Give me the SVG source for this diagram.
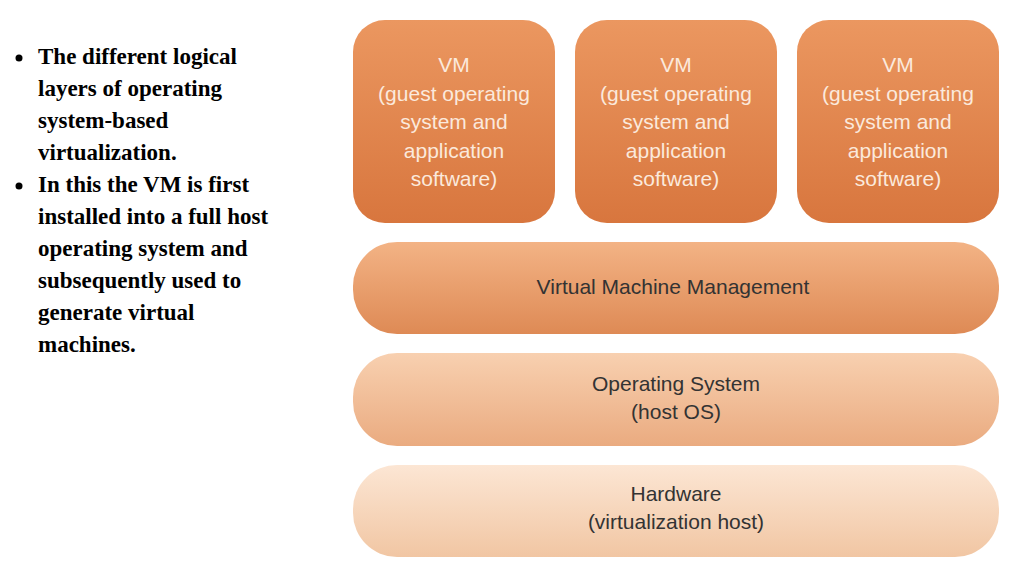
<svg xmlns="http://www.w3.org/2000/svg" width="1024" height="576" viewBox="0 0 1024 576">
<defs>
<linearGradient id="gvm" x1="0" y1="0" x2="0" y2="1"><stop offset="0" stop-color="#eb9760"/><stop offset="1" stop-color="#d8763e"/></linearGradient>
<linearGradient id="gvmm" x1="0" y1="0" x2="0" y2="1"><stop offset="0" stop-color="#f3b385"/><stop offset="1" stop-color="#de8a55"/></linearGradient>
<linearGradient id="gos" x1="0" y1="0" x2="0" y2="1"><stop offset="0" stop-color="#f8d0b0"/><stop offset="1" stop-color="#eaab80"/></linearGradient>
<linearGradient id="ghw" x1="0" y1="0" x2="0" y2="1"><stop offset="0" stop-color="#fce6d4"/><stop offset="1" stop-color="#f1c6a3"/></linearGradient>
</defs>
<style>
.b{font-family:"Liberation Serif",serif;font-weight:bold;font-size:23px;fill:#000}
.w{font-family:"Liberation Sans",Arial,sans-serif;font-size:21px;fill:#fbe9dc;text-anchor:middle}
.d{font-family:"Liberation Sans",Arial,sans-serif;font-size:21px;fill:#333;text-anchor:middle}
</style>
<rect width="1024" height="576" fill="#fff"/>
<g id="text">
<circle cx="19" cy="58" r="3.5" fill="#000"/>
<circle cx="19" cy="186" r="3.5" fill="#000"/>
<text class="b" x="38" y="64">The different logical</text>
<text class="b" x="38" y="96">layers of operating</text>
<text class="b" x="38" y="128">system-based</text>
<text class="b" x="38" y="160">virtualization.</text>
<text class="b" x="38" y="192">In this the VM is first</text>
<text class="b" x="38" y="224">installed into a full host</text>
<text class="b" x="38" y="256">operating system and</text>
<text class="b" x="38" y="288">subsequently used to</text>
<text class="b" x="38" y="320">generate virtual</text>
<text class="b" x="38" y="352">machines.</text>
</g>
<g id="vm1"><rect x="353" y="20" width="202" height="203" rx="32" fill="url(#gvm)"/>
<text class="w" x="454" y="72">VM</text><text class="w" x="454" y="101">(guest operating</text><text class="w" x="454" y="129">system and</text><text class="w" x="454" y="158">application</text><text class="w" x="454" y="186">software)</text></g>
<g id="vm2"><rect x="575" y="20" width="202" height="203" rx="32" fill="url(#gvm)"/>
<text class="w" x="676" y="72">VM</text><text class="w" x="676" y="101">(guest operating</text><text class="w" x="676" y="129">system and</text><text class="w" x="676" y="158">application</text><text class="w" x="676" y="186">software)</text></g>
<g id="vm3"><rect x="797" y="20" width="202" height="203" rx="32" fill="url(#gvm)"/>
<text class="w" x="898" y="72">VM</text><text class="w" x="898" y="101">(guest operating</text><text class="w" x="898" y="129">system and</text><text class="w" x="898" y="158">application</text><text class="w" x="898" y="186">software)</text></g>
<g id="vmm"><rect x="353" y="242" width="646" height="92" rx="44" fill="url(#gvmm)"/>
<text class="d" x="673" y="294">Virtual Machine Management</text></g>
<g id="os"><rect x="353" y="353" width="646" height="93" rx="44" fill="url(#gos)"/>
<text class="d" x="676" y="391">Operating System</text><text class="d" x="676" y="419">(host OS)</text></g>
<g id="hw"><rect x="353" y="465" width="646" height="92" rx="44" fill="url(#ghw)"/>
<text class="d" x="676" y="501">Hardware</text><text class="d" x="676" y="529">(virtualization host)</text></g>
<g id="connectors"/>
</svg>
